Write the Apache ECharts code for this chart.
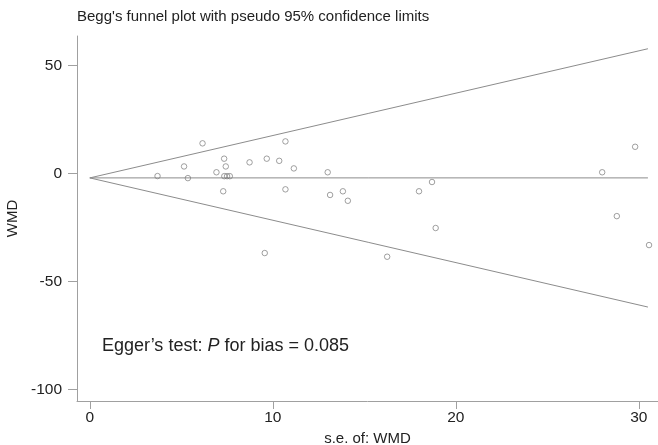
<!DOCTYPE html>
<html>
<head>
<meta charset="utf-8">
<script src="https://cdn.jsdelivr.net/npm/echarts@6/dist/echarts.min.js"></script>
<style>
html, body { margin: 0; padding: 0; background: #fff; }
#chart { width: 658px; height: 445px; }
</style>
</head>
<body>
<div id="chart"></div>
<script>
// study points: standard error (x) and WMD (y)
var seVals = [3.7, 5.15, 5.36, 6.16, 6.92, 7.29, 7.34, 7.43, 7.35, 7.5, 7.65, 8.73, 9.56, 9.67, 10.35,
	10.69, 10.69, 11.15, 13.0, 13.13, 13.83, 14.1, 16.25, 17.99, 18.7, 18.9, 28.0, 28.8, 29.8, 30.56];
var wmdVals = [-1.25, 3.2, -2.2, 13.9, 0.5, -8.3, 6.8, 3.2, -1.3, -1.3, -1.3, 5.1, -36.9, 6.8, 5.8,
	14.8, -7.4, 2.3, 0.5, -10.0, -8.3, -12.7, -38.6, -8.3, -4.0, -25.3, 0.5, -19.8, 12.3, -33.2];

// funnel: pooled estimate and pseudo 95% limits
var funnelSe = [0, 30.5];
var pooledLine = [-2.1, -2.1];
var upperLimit = [-2.1, 57.7];
var lowerLimit = [-2.1, -61.9];

var xTicks = [0, 10, 20, 30];
var yTicks = [-100, -50, 0, 50];

var font = "'Liberation Sans', Arial, sans-serif";
var axisGray = "#a0a0a0";
var lineGray = "#8c8c8c";

function pairs(xs, ys) {
	var out = [];
	for (var i = 0; i < xs.length; i++) {
		out.push([xs[i], ys[i]]);
	}
	return out;
}

var chart = echarts.init(document.getElementById("chart"));

var option = {
	animation: false,
	backgroundColor: "#fff",
	title: {
		text: "Begg's funnel plot with pseudo 95% confidence limits",
		left: 72,
		top: 4,
		textStyle: { fontFamily: font, fontSize: 15, fontWeight: "normal", color: "#222" }
	},
	grid: { left: 77, top: 36, right: 0, bottom: 44, containLabel: false, outerBoundsMode: "none" },
	xAxis: {
		type: "value",
		min: -0.7,
		max: 31.05,
		name: "s.e. of: WMD",
		nameLocation: "middle",
		nameGap: 30,
		nameTextStyle: { fontFamily: font, fontSize: 15, color: "#222" },
		splitLine: { show: false },
		axisLine: { show: true, onZero: false, lineStyle: { color: axisGray, width: 1 } },
		axisTick: { show: true, length: 8, lineStyle: { color: axisGray }, customValues: xTicks },
		axisLabel: { fontFamily: font, fontSize: 15.5, color: "#222", margin: 9, customValues: xTicks }
	},
	yAxis: {
		type: "value",
		min: -105.4,
		max: 63.6,
		name: "WMD",
		nameLocation: "middle",
		nameGap: 44,
		nameTextStyle: { fontFamily: font, fontSize: 15, color: "#222" },
		splitLine: { show: false },
		axisLine: { show: true, onZero: false, lineStyle: { color: axisGray, width: 1 } },
		axisTick: { show: true, length: 9, lineStyle: { color: axisGray }, customValues: yTicks },
		axisLabel: { fontFamily: font, fontSize: 15.5, color: "#222", margin: 15, customValues: yTicks }
	},
	series: [
		{
			type: "line",
			data: pairs(funnelSe, pooledLine),
			symbol: "none",
			lineStyle: { color: lineGray, width: 1 },
			silent: true
		},
		{
			type: "line",
			data: pairs(funnelSe, upperLimit),
			symbol: "none",
			lineStyle: { color: lineGray, width: 1 },
			silent: true
		},
		{
			type: "line",
			data: pairs(funnelSe, lowerLimit),
			symbol: "none",
			lineStyle: { color: lineGray, width: 1 },
			silent: true
		},
		{
			type: "scatter",
			data: pairs(seVals, wmdVals),
			symbol: "circle",
			symbolSize: 5.5,
			itemStyle: { color: "rgba(255,255,255,0)", borderColor: "#7a7a7a", borderWidth: 0.9 },
			z: 5
		}
	],
	graphic: [
		{
			type: "text",
			left: 102,
			top: 337,
			style: {
				text: "{a|Egger\u2019s test: }{b|P}{a| for bias = 0.085}",
				rich: {
					a: { fontFamily: font, fontSize: 18, fill: "#222" },
					b: { fontFamily: font, fontSize: 18, fontStyle: "italic", fill: "#222" }
				}
			}
		}
	]
};

chart.setOption(option);
</script>
</body>
</html>
